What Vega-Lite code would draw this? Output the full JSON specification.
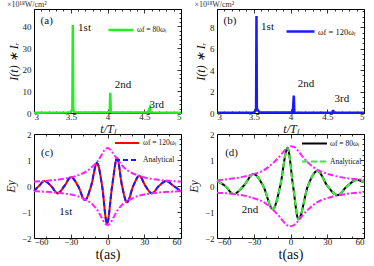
{
  "$schema": "https://vega.github.io/schema/vega-lite/v6.json",
  "padding": {"left": 3, "top": 0, "right": 0, "bottom": 0},
  "background": "white",
  "config": {
    "view": {"stroke": "#000", "strokeWidth": 1},
    "font": "Liberation Serif",
    "axis": {"labelFont": "Liberation Serif", "labelFontSize": 9, "labelColor": "#222", "titleFont": "Liberation Serif", "titleFontWeight": "normal", "titleColor": "#111", "domain": false, "grid": false, "tickColor": "#000", "tickWidth": 0.8, "labelPadding": 3, "labelOverlap": false},
    "legend": {"labelFont": "Liberation Serif", "labelColor": "#111", "symbolType": "stroke", "padding": 0, "rowPadding": 0, "title": null, "orient": "none"}
  },
  "datasets": {
    "spikeA": [
      {"t": 3.0, "I": 0.15}, {"t": 3.45, "I": 0.2}, {"t": 3.5, "I": 0.4}, {"t": 3.515, "I": 1.3}, {"t": 3.522, "I": 0.7},
      {"t": 3.528, "I": 40.6}, {"t": 3.534, "I": 1.8}, {"t": 3.54, "I": 1.0}, {"t": 3.55, "I": 0.4}, {"t": 3.6, "I": 0.2},
      {"t": 4.0, "I": 0.2}, {"t": 4.03, "I": 0.5}, {"t": 4.038, "I": 9.3}, {"t": 4.045, "I": 0.6}, {"t": 4.06, "I": 0.2},
      {"t": 4.55, "I": 0.2}, {"t": 4.576, "I": 2.4}, {"t": 4.585, "I": 0.2}, {"t": 5.0, "I": 0.15}
    ],
    "spikeB": [
      {"t": 3.0, "I": 0.02}, {"t": 3.5, "I": 0.05}, {"t": 3.525, "I": 0.2}, {"t": 3.532, "I": 0.5}, {"t": 3.537, "I": 9.05},
      {"t": 3.542, "I": 0.5}, {"t": 3.55, "I": 0.3}, {"t": 3.58, "I": 0.05}, {"t": 4.03, "I": 0.05}, {"t": 4.045, "I": 1.62},
      {"t": 4.052, "I": 0.05}, {"t": 4.57, "I": 0.03}, {"t": 4.58, "I": 0.28}, {"t": 4.588, "I": 0.03}, {"t": 5.0, "I": 0.02}
    ],
    "sigC": [
      {"s": "ωf = 120ωₗ", "t": -60, "v": -0.19}, {"s": "ωf = 120ωₗ", "t": -56, "v": 0}, {"s": "ωf = 120ωₗ", "t": -51.6, "v": 0.19},
      {"s": "ωf = 120ωₗ", "t": -46, "v": 0}, {"s": "ωf = 120ωₗ", "t": -40.7, "v": -0.28}, {"s": "ωf = 120ωₗ", "t": -35.2, "v": 0},
      {"s": "ωf = 120ωₗ", "t": -29.8, "v": 0.34}, {"s": "ωf = 120ωₗ", "t": -24, "v": 0}, {"s": "ωf = 120ωₗ", "t": -18.4, "v": -0.54},
      {"s": "ωf = 120ωₗ", "t": -13.4, "v": 0}, {"s": "ωf = 120ωₗ", "t": -8.6, "v": 0.88}, {"s": "ωf = 120ωₗ", "t": -4.4, "v": 0},
      {"s": "ωf = 120ωₗ", "t": -0.4, "v": -1.45}, {"s": "ωf = 120ωₗ", "t": 3.8, "v": 0}, {"s": "ωf = 120ωₗ", "t": 7.8, "v": 1.07},
      {"s": "ωf = 120ωₗ", "t": 11.9, "v": 0}, {"s": "ωf = 120ωₗ", "t": 15.9, "v": -0.63}, {"s": "ωf = 120ωₗ", "t": 21, "v": 0},
      {"s": "ωf = 120ωₗ", "t": 26, "v": 0.39}, {"s": "ωf = 120ωₗ", "t": 31, "v": 0}, {"s": "ωf = 120ωₗ", "t": 36.1, "v": -0.28},
      {"s": "ωf = 120ωₗ", "t": 42, "v": 0}, {"s": "ωf = 120ωₗ", "t": 47.8, "v": 0.19}, {"s": "ωf = 120ωₗ", "t": 54, "v": 0},
      {"s": "ωf = 120ωₗ", "t": 60, "v": -0.2},
      {"s": "Analytical", "t": -60, "v": -0.19}, {"s": "Analytical", "t": -56, "v": 0}, {"s": "Analytical", "t": -51.6, "v": 0.19},
      {"s": "Analytical", "t": -46, "v": 0}, {"s": "Analytical", "t": -40.7, "v": -0.28}, {"s": "Analytical", "t": -35.2, "v": 0},
      {"s": "Analytical", "t": -29.8, "v": 0.34}, {"s": "Analytical", "t": -24, "v": 0}, {"s": "Analytical", "t": -18.4, "v": -0.54},
      {"s": "Analytical", "t": -13.4, "v": 0}, {"s": "Analytical", "t": -8.6, "v": 0.88}, {"s": "Analytical", "t": -4.4, "v": 0},
      {"s": "Analytical", "t": -0.4, "v": -1.45}, {"s": "Analytical", "t": 3.8, "v": 0}, {"s": "Analytical", "t": 7.8, "v": 1.07},
      {"s": "Analytical", "t": 11.9, "v": 0}, {"s": "Analytical", "t": 15.9, "v": -0.63}, {"s": "Analytical", "t": 21, "v": 0},
      {"s": "Analytical", "t": 26, "v": 0.39}, {"s": "Analytical", "t": 31, "v": 0}, {"s": "Analytical", "t": 36.1, "v": -0.28},
      {"s": "Analytical", "t": 42, "v": 0}, {"s": "Analytical", "t": 47.8, "v": 0.19}, {"s": "Analytical", "t": 54, "v": 0},
      {"s": "Analytical", "t": 60, "v": -0.2}
    ],
    "envC": [
      {"p": "u", "t": -60, "v": 0.17}, {"p": "u", "t": -52, "v": 0.19}, {"p": "u", "t": -45, "v": 0.22}, {"p": "u", "t": -38, "v": 0.26},
      {"p": "u", "t": -32, "v": 0.31}, {"p": "u", "t": -26, "v": 0.38}, {"p": "u", "t": -20, "v": 0.49}, {"p": "u", "t": -16, "v": 0.6},
      {"p": "u", "t": -12, "v": 0.76}, {"p": "u", "t": -8, "v": 0.96}, {"p": "u", "t": -5, "v": 1.18}, {"p": "u", "t": -2.5, "v": 1.38},
      {"p": "u", "t": 0, "v": 1.46}, {"p": "u", "t": 2.5, "v": 1.39}, {"p": "u", "t": 5, "v": 1.22}, {"p": "u", "t": 8, "v": 1.03},
      {"p": "u", "t": 12, "v": 0.78}, {"p": "u", "t": 16, "v": 0.61}, {"p": "u", "t": 20, "v": 0.5}, {"p": "u", "t": 26, "v": 0.39},
      {"p": "u", "t": 32, "v": 0.31}, {"p": "u", "t": 38, "v": 0.26}, {"p": "u", "t": 45, "v": 0.22}, {"p": "u", "t": 52, "v": 0.19},
      {"p": "u", "t": 60, "v": 0.17},
      {"p": "l", "t": -60, "v": -0.2}, {"p": "l", "t": -52, "v": -0.22}, {"p": "l", "t": -45, "v": -0.24}, {"p": "l", "t": -38, "v": -0.27},
      {"p": "l", "t": -32, "v": -0.31}, {"p": "l", "t": -26, "v": -0.37}, {"p": "l", "t": -20, "v": -0.48}, {"p": "l", "t": -16, "v": -0.58},
      {"p": "l", "t": -12, "v": -0.72}, {"p": "l", "t": -8, "v": -0.95}, {"p": "l", "t": -5, "v": -1.2}, {"p": "l", "t": -2.5, "v": -1.42},
      {"p": "l", "t": 0, "v": -1.5}, {"p": "l", "t": 2.5, "v": -1.42}, {"p": "l", "t": 5, "v": -1.2}, {"p": "l", "t": 8, "v": -0.95},
      {"p": "l", "t": 12, "v": -0.72}, {"p": "l", "t": 16, "v": -0.58}, {"p": "l", "t": 20, "v": -0.48}, {"p": "l", "t": 26, "v": -0.37},
      {"p": "l", "t": 32, "v": -0.31}, {"p": "l", "t": 38, "v": -0.27}, {"p": "l", "t": 45, "v": -0.24}, {"p": "l", "t": 52, "v": -0.22},
      {"p": "l", "t": 60, "v": -0.2}
    ],
    "sigD": [
      {"s": "ωf = 80ωₗ", "t": -60, "v": 0.19}, {"s": "ωf = 80ωₗ", "t": -53.3, "v": 0}, {"s": "ωf = 80ωₗ", "t": -46.5, "v": -0.31},
      {"s": "ωf = 80ωₗ", "t": -38.4, "v": 0}, {"s": "ωf = 80ωₗ", "t": -30.2, "v": 0.46}, {"s": "ωf = 80ωₗ", "t": -22.3, "v": 0},
      {"s": "ωf = 80ωₗ", "t": -14.4, "v": -0.89}, {"s": "ωf = 80ωₗ", "t": -8.4, "v": 0}, {"s": "ωf = 80ωₗ", "t": -2.4, "v": 1.46},
      {"s": "ωf = 80ωₗ", "t": 2.1, "v": 0}, {"s": "ωf = 80ωₗ", "t": 6.5, "v": -1.28}, {"s": "ωf = 80ωₗ", "t": 14.2, "v": 0},
      {"s": "ωf = 80ωₗ", "t": 22, "v": 0.58}, {"s": "ωf = 80ωₗ", "t": 30.2, "v": 0}, {"s": "ωf = 80ωₗ", "t": 38.4, "v": -0.35},
      {"s": "ωf = 80ωₗ", "t": 46.3, "v": 0}, {"s": "ωf = 80ωₗ", "t": 54.1, "v": 0.23}, {"s": "ωf = 80ωₗ", "t": 60, "v": 0.14},
      {"s": "Analytical", "t": -60, "v": 0.19}, {"s": "Analytical", "t": -53.3, "v": 0}, {"s": "Analytical", "t": -46.5, "v": -0.31},
      {"s": "Analytical", "t": -38.4, "v": 0}, {"s": "Analytical", "t": -30.2, "v": 0.46}, {"s": "Analytical", "t": -22.3, "v": 0},
      {"s": "Analytical", "t": -14.4, "v": -0.89}, {"s": "Analytical", "t": -8.4, "v": 0}, {"s": "Analytical", "t": -2.4, "v": 1.46},
      {"s": "Analytical", "t": 2.1, "v": 0}, {"s": "Analytical", "t": 6.5, "v": -1.28}, {"s": "Analytical", "t": 14.2, "v": 0},
      {"s": "Analytical", "t": 22, "v": 0.58}, {"s": "Analytical", "t": 30.2, "v": 0}, {"s": "Analytical", "t": 38.4, "v": -0.35},
      {"s": "Analytical", "t": 46.3, "v": 0}, {"s": "Analytical", "t": 54.1, "v": 0.23}, {"s": "Analytical", "t": 60, "v": 0.14}
    ],
    "envD": [
      {"p": "u", "t": -60, "v": 0.22}, {"p": "u", "t": -52, "v": 0.26}, {"p": "u", "t": -45, "v": 0.3}, {"p": "u", "t": -38, "v": 0.36},
      {"p": "u", "t": -30, "v": 0.46}, {"p": "u", "t": -22, "v": 0.6}, {"p": "u", "t": -15, "v": 0.85}, {"p": "u", "t": -10, "v": 1.08},
      {"p": "u", "t": -6, "v": 1.3}, {"p": "u", "t": -3, "v": 1.45}, {"p": "u", "t": 0, "v": 1.53}, {"p": "u", "t": 3, "v": 1.5},
      {"p": "u", "t": 6, "v": 1.36}, {"p": "u", "t": 10, "v": 1.12}, {"p": "u", "t": 15, "v": 0.87}, {"p": "u", "t": 22, "v": 0.62},
      {"p": "u", "t": 30, "v": 0.47}, {"p": "u", "t": 38, "v": 0.37}, {"p": "u", "t": 45, "v": 0.31}, {"p": "u", "t": 52, "v": 0.27},
      {"p": "u", "t": 60, "v": 0.24},
      {"p": "l", "t": -60, "v": -0.26}, {"p": "l", "t": -52, "v": -0.28}, {"p": "l", "t": -45, "v": -0.32}, {"p": "l", "t": -38, "v": -0.37},
      {"p": "l", "t": -30, "v": -0.47}, {"p": "l", "t": -22, "v": -0.62}, {"p": "l", "t": -15, "v": -0.88}, {"p": "l", "t": -10, "v": -1.12},
      {"p": "l", "t": -6, "v": -1.36}, {"p": "l", "t": -3, "v": -1.5}, {"p": "l", "t": 0, "v": -1.55}, {"p": "l", "t": 3, "v": -1.5},
      {"p": "l", "t": 6, "v": -1.36}, {"p": "l", "t": 10, "v": -1.12}, {"p": "l", "t": 15, "v": -0.88}, {"p": "l", "t": 22, "v": -0.62},
      {"p": "l", "t": 30, "v": -0.47}, {"p": "l", "t": 38, "v": -0.37}, {"p": "l", "t": 45, "v": -0.31}, {"p": "l", "t": 52, "v": -0.27},
      {"p": "l", "t": 60, "v": -0.24}
    ]
  },
  "columns": 2,
  "spacing": {"row": 21, "column": 36},
  "bounds": "flush",
  "resolve": {"scale": {"x": "independent", "y": "independent", "color": "independent", "strokeDash": "independent"}},
  "concat": [
    {
      "width": 147, "height": 104,
      "title": {"text": "×10¹⁸W/cm²", "anchor": "start", "fontSize": 8, "fontWeight": "normal", "font": "Liberation Serif", "offset": 0, "color": "#333"},
      "resolve": {"axis": {"x": "independent", "y": "independent"}},
      "layer": [
        {
          "data": {"name": "spikeA"},
          "mark": {"type": "line", "strokeWidth": 2.5},
          "encoding": {
            "x": {"field": "t", "type": "quantitative", "scale": {"domain": [3, 5], "nice": false}, "axis": {"values": [3, 3.1, 3.2, 3.3, 3.4, 3.5, 3.6, 3.7, 3.8, 3.9, 4, 4.1, 4.2, 4.3, 4.4, 4.5, 4.6, 4.7, 4.8, 4.9, 5], "labelExpr": "abs(datum.value*2 - round(datum.value*2)) < 0.01 ? format(datum.value, '.1~f') : ''", "tickSize": {"condition": {"test": "abs(datum.value*2 - round(datum.value*2)) < 0.01", "value": -4}, "value": -2}, "title": "t/Tₗ", "titleFontStyle": "italic", "titleFontSize": 12, "titlePadding": 0}},
            "y": {"field": "I", "type": "quantitative", "scale": {"domain": [0, 48], "nice": false}, "axis": {"values": [0, 10, 20, 30, 40], "ticks": false, "labelPadding": 3, "title": "I(t) ∗ Iᵣ", "titleFontStyle": "italic", "titleFontSize": 12, "titlePadding": 2}},
            "color": {"datum": "ωf = 80ωₗ", "scale": {"range": ["#22ee22"]}, "legend": {"legendX": 73, "legendY": 7, "labelFontSize": 7.5, "symbolSize": 625, "symbolStrokeWidth": 2.5, "labelOffset": 2}}
          }
        },
        {
          "data": {"values": [{"t": 3.09, "I": 42, "label": "(a)"}, {"t": 3.6, "I": 39, "label": "1st"}, {"t": 4.1, "I": 12.5, "label": "2nd"}, {"t": 4.57, "I": 3.2, "label": "3rd"}]},
          "mark": {"type": "text", "align": "left", "baseline": "middle", "font": "Liberation Serif", "fontSize": 11, "color": "#111", "dy": -1},
          "encoding": {
            "x": {"field": "t", "type": "quantitative", "axis": {"orient": "top", "labels": false, "title": null, "values": [3, 3.1, 3.2, 3.3, 3.4, 3.5, 3.6, 3.7, 3.8, 3.9, 4, 4.1, 4.2, 4.3, 4.4, 4.5, 4.6, 4.7, 4.8, 4.9, 5], "tickSize": {"condition": {"test": "abs(datum.value*2 - round(datum.value*2)) < 0.01", "value": -4}, "value": -2}}},
            "y": {"field": "I", "type": "quantitative", "axis": {"orient": "right", "labels": false, "title": null, "values": [0, 2, 4, 6, 8, 10, 12, 14, 16, 18, 20, 22, 24, 26, 28, 30, 32, 34, 36, 38, 40, 42, 44, 46, 48], "tickSize": {"condition": {"test": "datum.value % 10 === 0", "value": -4}, "value": -2}}},
            "text": {"field": "label"}
          }
        }
      ]
    },
    {
      "width": 147, "height": 104,
      "title": {"text": "×10¹⁸W/cm²", "anchor": "start", "fontSize": 8, "fontWeight": "normal", "font": "Liberation Serif", "offset": 0, "color": "#333"},
      "resolve": {"axis": {"x": "independent", "y": "independent"}},
      "layer": [
        {
          "data": {"name": "spikeB"},
          "mark": {"type": "line", "strokeWidth": 2.5},
          "encoding": {
            "x": {"field": "t", "type": "quantitative", "scale": {"domain": [3, 5], "nice": false}, "axis": {"values": [3, 3.1, 3.2, 3.3, 3.4, 3.5, 3.6, 3.7, 3.8, 3.9, 4, 4.1, 4.2, 4.3, 4.4, 4.5, 4.6, 4.7, 4.8, 4.9, 5], "labelExpr": "abs(datum.value*2 - round(datum.value*2)) < 0.01 ? format(datum.value, '.1~f') : ''", "tickSize": {"condition": {"test": "abs(datum.value*2 - round(datum.value*2)) < 0.01", "value": -4}, "value": -2}, "title": "t/Tₗ", "titleFontStyle": "italic", "titleFontSize": 12, "titlePadding": 0}},
            "y": {"field": "I", "type": "quantitative", "scale": {"domain": [0, 9.7], "nice": false}, "axis": {"values": [0, 2, 4, 6, 8], "ticks": false, "labelPadding": 3, "title": "I(t) ∗ Iᵣ", "titleFontStyle": "italic", "titleFontSize": 12, "titlePadding": 2}},
            "color": {"datum": "ωf = 120ωₗ", "scale": {"range": ["#1a1aff"]}, "legend": {"legendX": 68, "legendY": 7, "labelFontSize": 8.5, "symbolSize": 784, "symbolStrokeWidth": 2.5, "labelOffset": 2}}
          }
        },
        {
          "data": {"values": [{"t": 3.09, "I": 8.5, "label": "(b)"}, {"t": 3.6, "I": 7.9, "label": "1st"}, {"t": 4.1, "I": 2.6, "label": "2nd"}, {"t": 4.6, "I": 1.2, "label": "3rd"}]},
          "mark": {"type": "text", "align": "left", "baseline": "middle", "font": "Liberation Serif", "fontSize": 11, "color": "#111", "dy": -1},
          "encoding": {
            "x": {"field": "t", "type": "quantitative", "axis": {"orient": "top", "labels": false, "title": null, "values": [3, 3.1, 3.2, 3.3, 3.4, 3.5, 3.6, 3.7, 3.8, 3.9, 4, 4.1, 4.2, 4.3, 4.4, 4.5, 4.6, 4.7, 4.8, 4.9, 5], "tickSize": {"condition": {"test": "abs(datum.value*2 - round(datum.value*2)) < 0.01", "value": -4}, "value": -2}}},
            "y": {"field": "I", "type": "quantitative", "axis": {"orient": "right", "labels": false, "title": null, "values": [0, 0.5, 1, 1.5, 2, 2.5, 3, 3.5, 4, 4.5, 5, 5.5, 6, 6.5, 7, 7.5, 8, 8.5, 9, 9.5], "tickSize": {"condition": {"test": "datum.value % 2 === 0", "value": -4}, "value": -2}}},
            "text": {"field": "label"}
          }
        }
      ]
    },
    {
      "width": 147, "height": 104,
      "resolve": {"axis": {"x": "independent", "y": "independent"}},
      "layer": [
        {
          "data": {"name": "sigC"},
          "mark": {"type": "line", "strokeWidth": 2, "interpolate": "monotone"},
          "encoding": {
            "x": {"field": "t", "type": "quantitative", "scale": {"domain": [-60, 60], "nice": false}, "axis": {"values": [-60, -50, -40, -30, -20, -10, 0, 10, 20, 30, 40, 50, 60], "labelExpr": "datum.value % 30 === 0 ? format(datum.value, 'd') : ''", "tickSize": {"condition": {"test": "datum.value % 30 === 0", "value": -4}, "value": -2}, "title": "t(as)", "titleFontSize": 14, "titlePadding": -1}},
            "y": {"field": "v", "type": "quantitative", "scale": {"domain": [-2, 2], "nice": false}, "axis": {"values": [-2, -1, 0, 1, 2], "ticks": false, "labelPadding": 3, "title": "Ey", "titleFontStyle": "italic", "titleFontSize": 12, "titlePadding": 4}},
            "color": {"field": "s", "type": "nominal", "sort": null, "scale": {"domain": ["ωf = 120ωₗ", "Analytical"], "range": ["#ff0000", "#1a1aff"]}, "legend": {"legendX": 80, "legendY": -4, "labelFontSize": 7.5, "symbolSize": 576, "symbolStrokeWidth": 2, "labelOffset": 3}},
            "strokeDash": {"field": "s", "type": "nominal", "sort": null, "scale": {"domain": ["ωf = 120ωₗ", "Analytical"], "range": [[1, 0], [5, 3]]}, "legend": {"legendX": 80, "legendY": -4, "labelFontSize": 7.5, "symbolSize": 576, "symbolStrokeWidth": 2, "labelOffset": 3}}
          }
        },
        {
          "data": {"name": "envC"},
          "mark": {"type": "line", "strokeWidth": 2, "interpolate": "monotone", "color": "#ff22ff", "strokeDash": [6, 2, 2, 2]},
          "encoding": {"x": {"field": "t", "type": "quantitative", "axis": null}, "y": {"field": "v", "type": "quantitative", "axis": null}, "detail": {"field": "p"}}
        },
        {
          "data": {"values": [{"t": -54.3, "v": 1.22, "label": "(c)"}, {"t": -39.3, "v": -1.03, "label": "1st"}]},
          "mark": {"type": "text", "align": "left", "baseline": "middle", "font": "Liberation Serif", "fontSize": 11, "color": "#111", "dy": -1},
          "encoding": {
            "x": {"field": "t", "type": "quantitative", "axis": {"orient": "top", "labels": false, "title": null, "values": [-60, -50, -40, -30, -20, -10, 0, 10, 20, 30, 40, 50, 60], "tickSize": {"condition": {"test": "datum.value % 30 === 0", "value": -4}, "value": -2}}},
            "y": {"field": "v", "type": "quantitative", "axis": {"orient": "right", "labels": false, "title": null, "values": [-2, -1.8, -1.6, -1.4, -1.2, -1, -0.8, -0.6, -0.4, -0.2, 0, 0.2, 0.4, 0.6, 0.8, 1, 1.2, 1.4, 1.6, 1.8, 2], "tickSize": {"condition": {"test": "abs(datum.value - round(datum.value)) < 0.01", "value": -4}, "value": -2}}},
            "text": {"field": "label"}
          }
        }
      ]
    },
    {
      "width": 147, "height": 104,
      "resolve": {"axis": {"x": "independent", "y": "independent"}},
      "layer": [
        {
          "data": {"name": "sigD"},
          "mark": {"type": "line", "strokeWidth": 2, "interpolate": "monotone"},
          "encoding": {
            "x": {"field": "t", "type": "quantitative", "scale": {"domain": [-60, 60], "nice": false}, "axis": {"values": [-60, -50, -40, -30, -20, -10, 0, 10, 20, 30, 40, 50, 60], "labelExpr": "datum.value % 30 === 0 ? format(datum.value, 'd') : ''", "tickSize": {"condition": {"test": "datum.value % 30 === 0", "value": -4}, "value": -2}, "title": "t(as)", "titleFontSize": 14, "titlePadding": -1}},
            "y": {"field": "v", "type": "quantitative", "scale": {"domain": [-2, 2], "nice": false}, "axis": {"values": [-2, -1, 0, 1, 2], "ticks": false, "labelPadding": 3, "title": "Ey", "titleFontStyle": "italic", "titleFontSize": 12, "titlePadding": 4}},
            "color": {"field": "s", "type": "nominal", "sort": null, "scale": {"domain": ["ωf = 80ωₗ", "Analytical"], "range": ["#000000", "#33ee33"]}, "legend": {"legendX": 84, "legendY": -4, "labelFontSize": 7.5, "symbolSize": 625, "symbolStrokeWidth": 2, "labelOffset": 2}},
            "strokeDash": {"field": "s", "type": "nominal", "sort": null, "scale": {"domain": ["ωf = 80ωₗ", "Analytical"], "range": [[1, 0], [6, 3]]}, "legend": {"legendX": 84, "legendY": -4, "labelFontSize": 7.5, "symbolSize": 625, "symbolStrokeWidth": 2, "labelOffset": 2}}
          }
        },
        {
          "data": {"name": "envD"},
          "mark": {"type": "line", "strokeWidth": 2, "interpolate": "monotone", "color": "#ff22ff", "strokeDash": [6, 2, 2, 2]},
          "encoding": {"x": {"field": "t", "type": "quantitative", "axis": null}, "y": {"field": "v", "type": "quantitative", "axis": null}, "detail": {"field": "p"}}
        },
        {
          "data": {"values": [{"t": -53.3, "v": 1.22, "label": "(d)"}, {"t": -39.8, "v": -0.96, "label": "2nd"}]},
          "mark": {"type": "text", "align": "left", "baseline": "middle", "font": "Liberation Serif", "fontSize": 11, "color": "#111", "dy": -1},
          "encoding": {
            "x": {"field": "t", "type": "quantitative", "axis": {"orient": "top", "labels": false, "title": null, "values": [-60, -50, -40, -30, -20, -10, 0, 10, 20, 30, 40, 50, 60], "tickSize": {"condition": {"test": "datum.value % 30 === 0", "value": -4}, "value": -2}}},
            "y": {"field": "v", "type": "quantitative", "axis": {"orient": "right", "labels": false, "title": null, "values": [-2, -1.8, -1.6, -1.4, -1.2, -1, -0.8, -0.6, -0.4, -0.2, 0, 0.2, 0.4, 0.6, 0.8, 1, 1.2, 1.4, 1.6, 1.8, 2], "tickSize": {"condition": {"test": "abs(datum.value - round(datum.value)) < 0.01", "value": -4}, "value": -2}}},
            "text": {"field": "label"}
          }
        }
      ]
    }
  ]
}
